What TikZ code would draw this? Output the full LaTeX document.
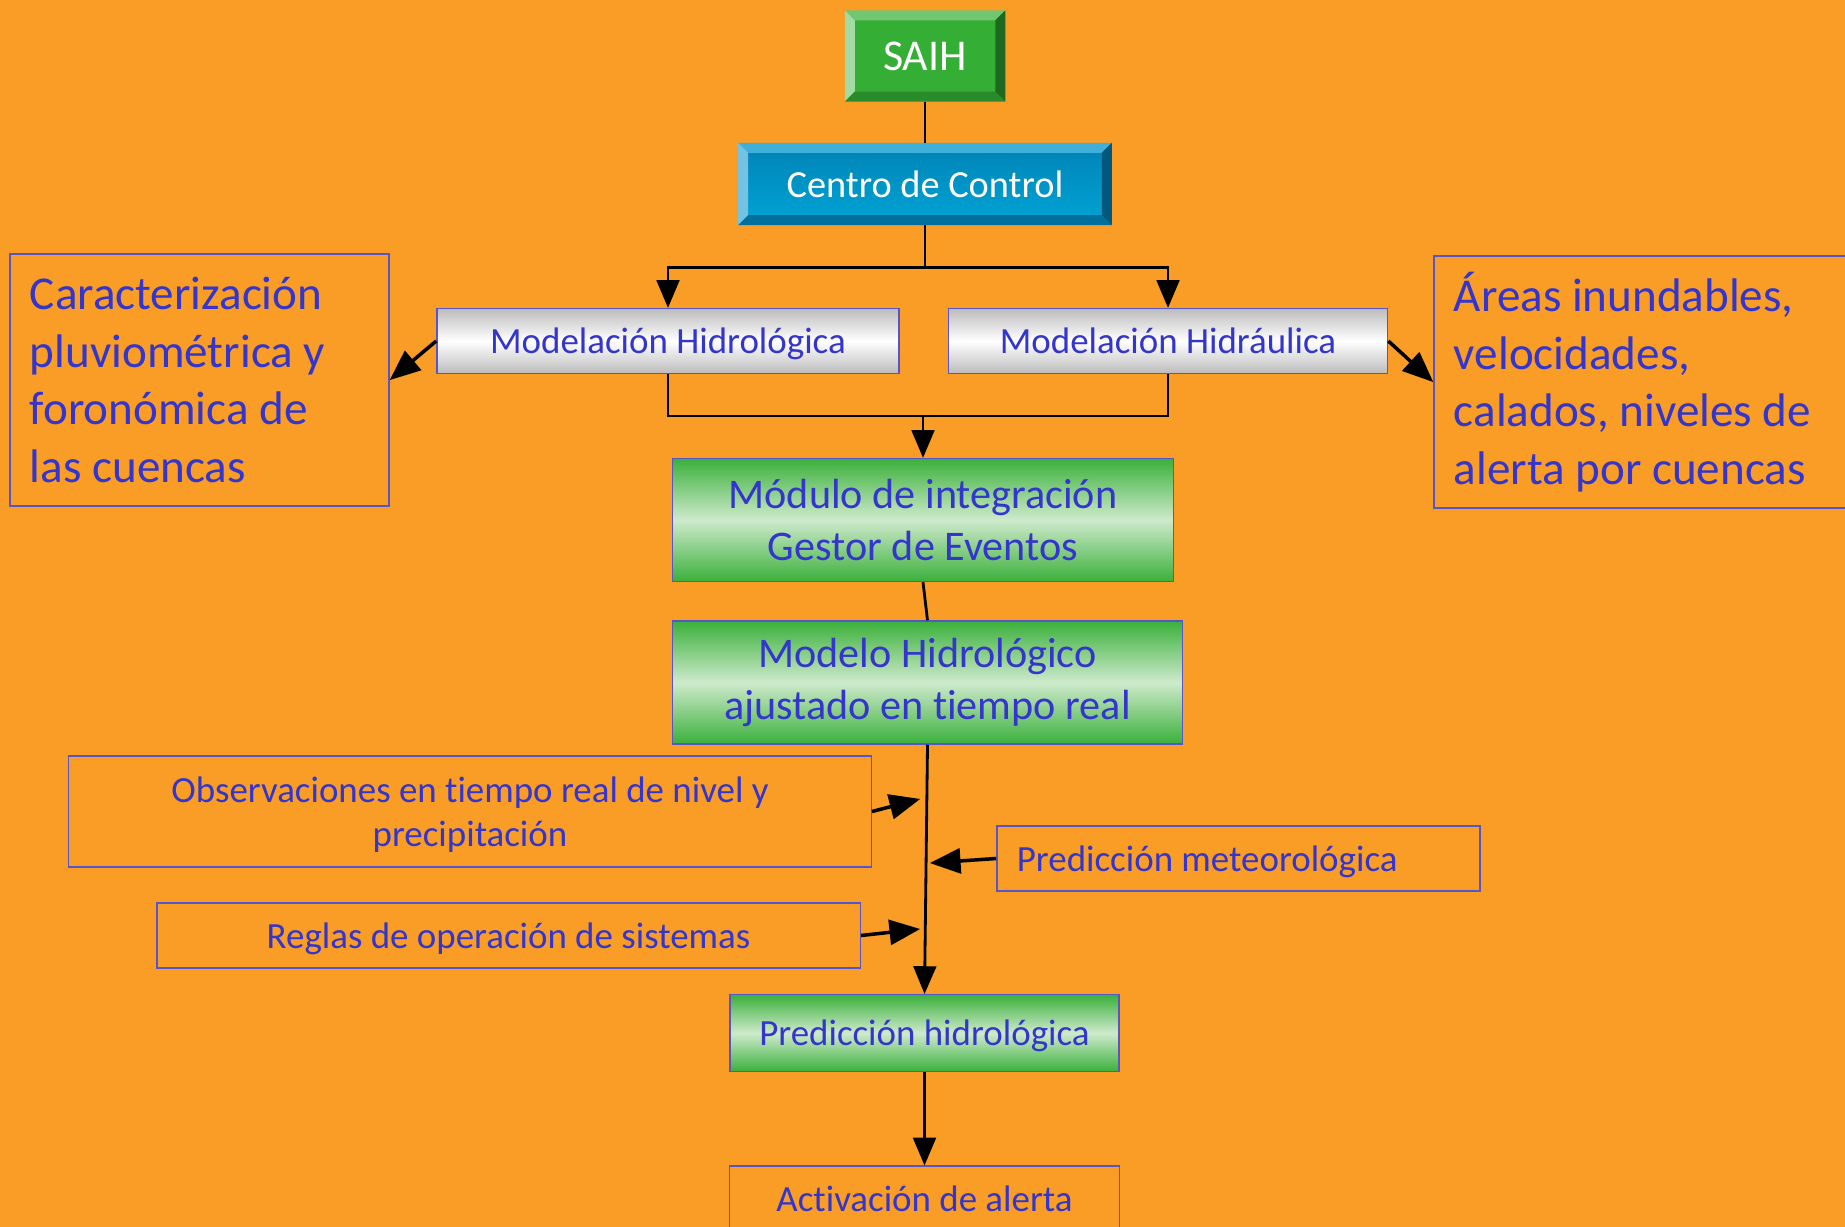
\documentclass[tikz,border=0pt]{standalone}
\usepackage{fontspec}
\setmainfont{Carlito}[Ligatures=NoCommon]
\usepackage{xcolor}
\usetikzlibrary{shapes.geometric, arrows, positioning, calc}

\definecolor{bgorange}{RGB}{249,157,38}
\definecolor{inkblue}{RGB}{51,53,204}
\definecolor{edgeblue}{RGB}{86,86,204}
\definecolor{saihface}{RGB}{52,174,52}
\definecolor{ctrlface}{RGB}{0,148,206}
\definecolor{stagegreen}{RGB}{58,176,58}
\definecolor{stagepale}{RGB}{206,234,204}
\definecolor{silver}{RGB}{188,188,188}

% bevel round a node: name, top, left, right, bottom
\newcommand{\bevelframe}[5]{%
  \fill[#2] (#1.north west) -- (#1.north east) -- ([shift={(-10,10)}]#1.north east) -- ([shift={(10,10)}]#1.north west) -- cycle;
  \fill[#3] (#1.north west) -- ([shift={(10,10)}]#1.north west) -- ([shift={(10,-10)}]#1.south west) -- (#1.south west) -- cycle;
  \fill[#4] (#1.north east) -- ([shift={(-10,10)}]#1.north east) -- ([shift={(-10,-10)}]#1.south east) -- (#1.south east) -- cycle;
  \fill[#5] (#1.south west) -- ([shift={(10,-10)}]#1.south west) -- ([shift={(-10,-10)}]#1.south east) -- (#1.south east) -- cycle;
}

\begin{document}
\begin{tikzpicture}[
    x=0.01cm, y=-0.01cm,
    flat/.style={text depth=0pt},
    saihbox/.style={rectangle, fill=saihface, text=white, minimum width=1.59cm, minimum height=0.90cm, font=\fontsize{12.5}{15}\selectfont},
    controlbox/.style={rectangle, top color=ctrlface!88!black, bottom color=ctrlface!85!cyan, text=white, minimum width=3.72cm, minimum height=0.81cm, font=\fontsize{10.9}{13}\selectfont},
    modelbox/.style={rectangle, draw=edgeblue, top color=silver, bottom color=silver, middle color=white, text=inkblue, flat, minimum height=0.65cm, font=\fontsize{10.5}{12.6}\selectfont},
    stagebox/.style={rectangle, draw=edgeblue, top color=stagegreen, bottom color=stagegreen, middle color=stagepale, text=inkblue, align=center, font=\fontsize{10.5}{12.6}\selectfont},
    bigstage/.style={stagebox, minimum height=1.23cm, font=\fontsize{12}{14.6}\selectfont},
    note/.style={rectangle, draw=edgeblue, text=inkblue, inner xsep=0.2cm, font=\fontsize{10.5}{12.4}\selectfont},
    bignote/.style={note, align=flush left, minimum height=2.52cm, font=\fontsize{13.4}{16.4}\selectfont},
    arrow/.style={->, >=triangle 45, thick},
    feed/.style={->, >=triangle 45, line width=1pt}
]

\useasboundingbox (0,0) rectangle (1845,1227);
\clip (0,0) rectangle (1845,1227);
\fill[bgorange] (0,0) rectangle (1845,1227);

\node[saihbox] (saih) at (925,56) {SAIH};
\node[controlbox, below=0.41cm of saih] (control) {Centro de Control};
\node[modelbox, minimum width=4.62cm] (hidrol) at (668,341) {Modelación Hidrológica};
\node[modelbox, minimum width=4.39cm] (hidra) at (1168,341) {Modelación Hidráulica};
\node[bigstage, minimum width=5.01cm] (modulo) at (923,520) {Módulo de integración\\Gestor de Eventos};
\node[bigstage, minimum width=5.10cm, below=0.38cm of modulo, xshift=0.045cm] (ajuste) {Modelo Hidrológico\\ajustado en tiempo real};
\node[stagebox, flat, minimum width=3.89cm, minimum height=0.77cm, below=2.49cm of ajuste, xshift=-0.03cm] (predh) {Predicción hidrológica};
\node[note, flat, minimum width=3.90cm, minimum height=0.66cm, below=0.93cm of predh] (alerta) {Activación de alerta};

\node[bignote, text width=3.39cm] (caract) at (199.5,380) {Caracterización\\pluviométrica y\\foronómica de\\las cuencas};
\node[bignote, text width=3.98cm] (areas) at (1653,382) {Áreas inundables,\\velocidades,\\calados, niveles de\\alerta por cuencas};
\node[note, flat, minimum width=8.02cm, minimum height=1.11cm, align=center] (obs) at (470,811.5) {Observaciones en tiempo real de nivel y\\precipitación};
\node[note, flat, text width=4.43cm, align=flush left, minimum height=0.65cm] (meteo) at (1238.5,858.5) {Predicción meteorológica};
\node[note, flat, minimum width=7.03cm, minimum height=0.65cm] (reglas) at (508.5,935.5) {Reglas de operación de sistemas};

\bevelframe{saih}{saihface!70!white}{saihface!45!white}{saihface!60!black}{saihface!80!black}
\bevelframe{control}{ctrlface!75!white}{ctrlface!55!white}{ctrlface!60!black}{ctrlface!75!black}

\coordinate (split) at ($(control.south)+(0,42)$);
\coordinate (join) at (923,416);
\coordinate (obsin) at (920,799);
\coordinate (meteoin) at (930,863);
\coordinate (reglasin) at (920,929);

\draw[thick] (saih.south) -- (control.north);
\draw[arrow] (control.south) -- (split) -| (hidrol.north);
\draw[arrow] (split) -| (hidra.north);
\draw[thick] (hidrol.south) |- (join) -| (hidra.south);
\draw[arrow] (join) -- (modulo.north);
\draw[thick] (modulo.south) -- (ajuste.north);
\draw[arrow] (ajuste.south) -- (predh.north);
\draw[arrow] (predh.south) -- (alerta.north);

\draw[feed] (hidrol.west) -- (caract.east);
\draw[feed] (hidra.east) -- (areas.west);
\draw[feed] (obs.east) -- (obsin);
\draw[feed] (meteo.west) -- (meteoin);
\draw[feed] (reglas.east) -- (reglasin);

\end{tikzpicture}
\end{document}
